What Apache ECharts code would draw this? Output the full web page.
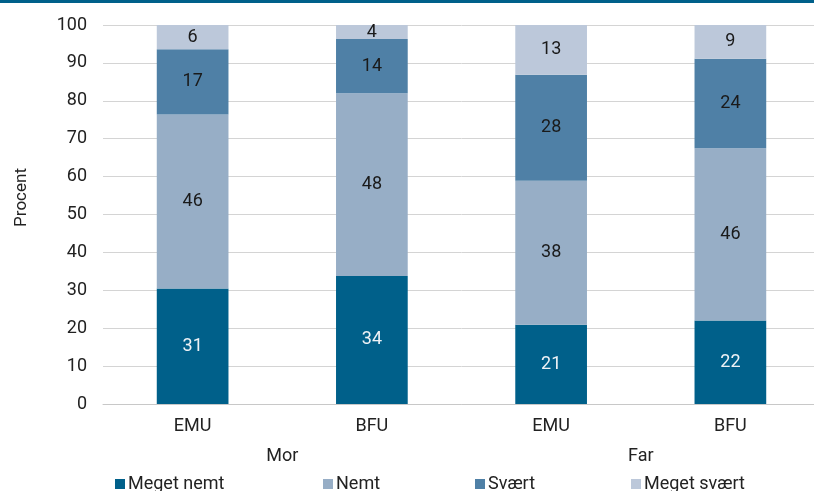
<!DOCTYPE html>
<html>
<head>
<meta charset="utf-8">
<script src="https://cdn.jsdelivr.net/npm/echarts@6/dist/echarts.min.js"></script>
<style>html,body{margin:0;padding:0;background:#fff;overflow:hidden}#c{width:820px;height:491px}</style>
</head>
<body>
<div id="c"></div>
<script>
const categories = ['EMU', 'BFU', 'EMU', 'BFU'];
const groups = ['Mor', 'Far'];
const seriesNames = ['Meget nemt', 'Nemt', 'Svært', 'Meget svært'];
const megetNemt = [30.5, 33.8, 20.9, 22.0];
const nemt = [45.9, 48.2, 38.0, 45.5];
const svaert = [17.2, 14.3, 28.0, 23.6];
const megetSvaert = [6.4, 3.7, 13.1, 8.9];
const megetNemtLabels = [31, 34, 21, 22];
const nemtLabels = [46, 48, 38, 46];
const svaertLabels = [17, 14, 28, 24];
const megetSvaertLabels = [6, 4, 13, 9];
const yTicks = [0, 10, 20, 30, 40, 50, 60, 70, 80, 90, 100];

const colors = ['#00608A', '#97AEC6', '#4F80A6', '#BCC8DA'];
const FONT = 'Roboto';
const values = [megetNemt, nemt, svaert, megetSvaert];
const labels = [megetNemtLabels, nemtLabels, svaertLabels, megetSvaertLabels];
const legendLeft = [110, 318, 470, 626];

const chart = echarts.init(document.getElementById('c'), null, {renderer: 'canvas'});
chart.setOption({
  animation: false,
  textStyle: {fontFamily: FONT},
  graphic: [{type: 'rect', left: 0, top: 0, shape: {width: 820, height: 3}, style: {fill: '#00608A'}}],
  grid: {left: 103, top: 25, right: 0, bottom: 87, containLabel: false},
  legend: seriesNames.map((n, i) => ({
    data: [n], left: legendLeft[i], top: 470, itemWidth: 10, itemHeight: 10, icon: 'rect',
    textStyle: {fontFamily: FONT, fontSize: 18, color: '#222', padding: [0, 0, 0, -2]}
  })),
  xAxis: [{
    type: 'category', data: categories, position: 'bottom',
    axisLine: {lineStyle: {color: '#c8c8c8', width: 1}}, axisTick: {show: false},
    axisLabel: {fontFamily: FONT, fontSize: 18, color: '#222', margin: 13}
  }, {
    type: 'category', data: groups, position: 'bottom', offset: 30,
    axisLine: {show: false}, axisTick: {show: false},
    axisLabel: {fontFamily: FONT, fontSize: 18, color: '#222', margin: 13}
  }],
  yAxis: {
    type: 'value', min: 0, max: 100, interval: 10,
    name: 'Procent', nameLocation: 'middle', nameGap: 73,
    nameTextStyle: {fontFamily: FONT, fontSize: 17, color: '#222', padding: [0, 0, 0, 34]},
    axisLine: {show: false}, axisTick: {show: false},
    axisLabel: {fontFamily: FONT, fontSize: 18, color: '#222', margin: 16,
      formatter: v => yTicks.includes(v) ? String(v) : ''},
    splitLine: {lineStyle: {color: '#d4d4d4', width: 1}}
  },
  series: seriesNames.map((n, i) => ({
    name: n, type: 'bar', stack: 'total', barWidth: '40%', xAxisIndex: 0,
    data: values[i],
    itemStyle: {color: colors[i]},
    label: {
      show: true, position: 'inside', fontFamily: FONT, fontSize: 18,
      color: i === 0 ? '#eef2f6' : '#1a1a1a',
      formatter: p => String(labels[i][p.dataIndex])
    }
  }))
});
</script>
</body>
</html>
